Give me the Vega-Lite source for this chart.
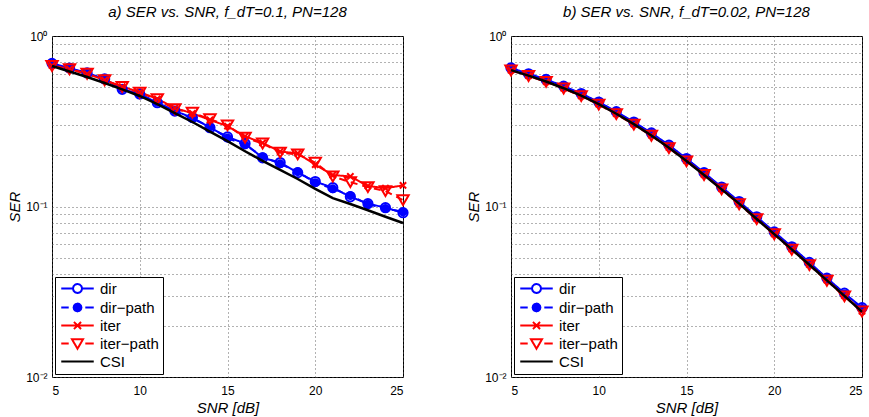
{
"$schema": "https://vega.github.io/schema/vega-lite/v6.json",
"background": "white",
"padding": {"left": 7, "top": 4, "right": 0, "bottom": 1},
"config": {
  "view": {"stroke": "black", "strokeWidth": 1},
  "font": "Liberation Sans",
  "title": {"font": "Liberation Sans", "fontSize": 15, "fontStyle": "italic", "fontWeight": "normal", "color": "black", "offset": 10},
  "axis": {"labelFont": "Liberation Sans", "labelFontSize": 12, "labelColor": "black", "titleFont": "Liberation Sans", "titleFontSize": 15, "titleFontStyle": "italic", "titleFontWeight": "normal", "titleColor": "black", "domain": false, "ticks": false, "gridColor": "#555555", "gridDash": [1, 3], "gridOpacity": 0.9, "gridWidth": 1, "labelOverlap": false},
  "legend": {"orient": "bottom-left", "offset": 3, "strokeColor": "black", "fillColor": "white", "padding": 4, "labelFont": "Liberation Sans", "labelFontSize": 15, "labelColor": "black", "symbolSize": 169, "rowPadding": 1, "symbolOffset": 11, "labelOffset": 15, "symbolStrokeWidth": 2}
},
"data": {"values": [
{"panel":"a","series":"dir","snr":5,"ser":0.691},{"panel":"a","series":"dir","snr":6,"ser":0.649},{"panel":"a","series":"dir","snr":7,"ser":0.607},{"panel":"a","series":"dir","snr":8,"ser":0.560},{"panel":"a","series":"dir","snr":9,"ser":0.487},{"panel":"a","series":"dir","snr":10,"ser":0.457},{"panel":"a","series":"dir","snr":11,"ser":0.406},{"panel":"a","series":"dir","snr":12,"ser":0.363},{"panel":"a","series":"dir","snr":13,"ser":0.332},{"panel":"a","series":"dir","snr":14,"ser":0.290},{"panel":"a","series":"dir","snr":15,"ser":0.256},{"panel":"a","series":"dir","snr":16,"ser":0.234},{"panel":"a","series":"dir","snr":17,"ser":0.193},{"panel":"a","series":"dir","snr":18,"ser":0.181},{"panel":"a","series":"dir","snr":19,"ser":0.158},{"panel":"a","series":"dir","snr":20,"ser":0.140},{"panel":"a","series":"dir","snr":21,"ser":0.129},{"panel":"a","series":"dir","snr":22,"ser":0.114},{"panel":"a","series":"dir","snr":23,"ser":0.104},{"panel":"a","series":"dir","snr":24,"ser":0.0984},{"panel":"a","series":"dir","snr":25,"ser":0.092},
{"panel":"a","series":"dir-path","snr":5,"ser":0.688},{"panel":"a","series":"dir-path","snr":6,"ser":0.645},{"panel":"a","series":"dir-path","snr":7,"ser":0.603},{"panel":"a","series":"dir-path","snr":8,"ser":0.556},{"panel":"a","series":"dir-path","snr":9,"ser":0.492},{"panel":"a","series":"dir-path","snr":10,"ser":0.452},{"panel":"a","series":"dir-path","snr":11,"ser":0.410},{"panel":"a","series":"dir-path","snr":12,"ser":0.360},{"panel":"a","series":"dir-path","snr":13,"ser":0.328},{"panel":"a","series":"dir-path","snr":14,"ser":0.293},{"panel":"a","series":"dir-path","snr":15,"ser":0.252},{"panel":"a","series":"dir-path","snr":16,"ser":0.230},{"panel":"a","series":"dir-path","snr":17,"ser":0.196},{"panel":"a","series":"dir-path","snr":18,"ser":0.178},{"panel":"a","series":"dir-path","snr":19,"ser":0.160},{"panel":"a","series":"dir-path","snr":20,"ser":0.138},{"panel":"a","series":"dir-path","snr":21,"ser":0.127},{"panel":"a","series":"dir-path","snr":22,"ser":0.116},{"panel":"a","series":"dir-path","snr":23,"ser":0.103},{"panel":"a","series":"dir-path","snr":24,"ser":0.0975},{"panel":"a","series":"dir-path","snr":25,"ser":0.093},
{"panel":"a","series":"iter","snr":5,"ser":0.672},{"panel":"a","series":"iter","snr":6,"ser":0.640},{"panel":"a","series":"iter","snr":7,"ser":0.600},{"panel":"a","series":"iter","snr":8,"ser":0.552},{"panel":"a","series":"iter","snr":9,"ser":0.505},{"panel":"a","series":"iter","snr":10,"ser":0.468},{"panel":"a","series":"iter","snr":11,"ser":0.428},{"panel":"a","series":"iter","snr":12,"ser":0.378},{"panel":"a","series":"iter","snr":13,"ser":0.352},{"panel":"a","series":"iter","snr":14,"ser":0.322},{"panel":"a","series":"iter","snr":15,"ser":0.296},{"panel":"a","series":"iter","snr":16,"ser":0.258},{"panel":"a","series":"iter","snr":17,"ser":0.236},{"panel":"a","series":"iter","snr":18,"ser":0.210},{"panel":"a","series":"iter","snr":19,"ser":0.205},{"panel":"a","series":"iter","snr":20,"ser":0.176},{"panel":"a","series":"iter","snr":21,"ser":0.153},{"panel":"a","series":"iter","snr":22,"ser":0.150},{"panel":"a","series":"iter","snr":23,"ser":0.132},{"panel":"a","series":"iter","snr":24,"ser":0.128},{"panel":"a","series":"iter","snr":25,"ser":0.133},
{"panel":"a","series":"iter-path","snr":5,"ser":0.667},{"panel":"a","series":"iter-path","snr":6,"ser":0.638},{"panel":"a","series":"iter-path","snr":7,"ser":0.601},{"panel":"a","series":"iter-path","snr":8,"ser":0.550},{"panel":"a","series":"iter-path","snr":9,"ser":0.502},{"panel":"a","series":"iter-path","snr":10,"ser":0.465},{"panel":"a","series":"iter-path","snr":11,"ser":0.426},{"panel":"a","series":"iter-path","snr":12,"ser":0.372},{"panel":"a","series":"iter-path","snr":13,"ser":0.355},{"panel":"a","series":"iter-path","snr":14,"ser":0.325},{"panel":"a","series":"iter-path","snr":15,"ser":0.299},{"panel":"a","series":"iter-path","snr":16,"ser":0.253},{"panel":"a","series":"iter-path","snr":17,"ser":0.234},{"panel":"a","series":"iter-path","snr":18,"ser":0.207},{"panel":"a","series":"iter-path","snr":19,"ser":0.202},{"panel":"a","series":"iter-path","snr":20,"ser":0.181},{"panel":"a","series":"iter-path","snr":21,"ser":0.150},{"panel":"a","series":"iter-path","snr":22,"ser":0.139},{"panel":"a","series":"iter-path","snr":23,"ser":0.130},{"panel":"a","series":"iter-path","snr":24,"ser":0.123},{"panel":"a","series":"iter-path","snr":25,"ser":0.109},
{"panel":"a","series":"CSI","snr":5,"ser":0.667},{"panel":"a","series":"CSI","snr":6,"ser":0.619},{"panel":"a","series":"CSI","snr":7,"ser":0.575},{"panel":"a","series":"CSI","snr":8,"ser":0.530},{"panel":"a","series":"CSI","snr":9,"ser":0.486},{"panel":"a","series":"CSI","snr":10,"ser":0.445},{"panel":"a","series":"CSI","snr":11,"ser":0.398},{"panel":"a","series":"CSI","snr":12,"ser":0.353},{"panel":"a","series":"CSI","snr":13,"ser":0.313},{"panel":"a","series":"CSI","snr":14,"ser":0.275},{"panel":"a","series":"CSI","snr":15,"ser":0.242},{"panel":"a","series":"CSI","snr":16,"ser":0.211},{"panel":"a","series":"CSI","snr":17,"ser":0.185},{"panel":"a","series":"CSI","snr":18,"ser":0.164},{"panel":"a","series":"CSI","snr":19,"ser":0.145},{"panel":"a","series":"CSI","snr":20,"ser":0.127},{"panel":"a","series":"CSI","snr":21,"ser":0.112},{"panel":"a","series":"CSI","snr":22,"ser":0.1035},{"panel":"a","series":"CSI","snr":23,"ser":0.0951},{"panel":"a","series":"CSI","snr":24,"ser":0.0871},{"panel":"a","series":"CSI","snr":25,"ser":0.080},
{"panel":"b","series":"dir","snr":5,"ser":0.650},{"panel":"b","series":"dir","snr":6,"ser":0.600},{"panel":"b","series":"dir","snr":7,"ser":0.556},{"panel":"b","series":"dir","snr":8,"ser":0.508},{"panel":"b","series":"dir","snr":9,"ser":0.460},{"panel":"b","series":"dir","snr":10,"ser":0.410},{"panel":"b","series":"dir","snr":11,"ser":0.360},{"panel":"b","series":"dir","snr":12,"ser":0.313},{"panel":"b","series":"dir","snr":13,"ser":0.270},{"panel":"b","series":"dir","snr":14,"ser":0.229},{"panel":"b","series":"dir","snr":15,"ser":0.191},{"panel":"b","series":"dir","snr":16,"ser":0.158},{"panel":"b","series":"dir","snr":17,"ser":0.130},{"panel":"b","series":"dir","snr":18,"ser":0.107},{"panel":"b","series":"dir","snr":19,"ser":0.087},{"panel":"b","series":"dir","snr":20,"ser":0.071},{"panel":"b","series":"dir","snr":21,"ser":0.058},{"panel":"b","series":"dir","snr":22,"ser":0.047},{"panel":"b","series":"dir","snr":23,"ser":0.038},{"panel":"b","series":"dir","snr":24,"ser":0.031},{"panel":"b","series":"dir","snr":25,"ser":0.0255},
{"panel":"b","series":"dir-path","snr":5,"ser":0.648},{"panel":"b","series":"dir-path","snr":6,"ser":0.598},{"panel":"b","series":"dir-path","snr":7,"ser":0.553},{"panel":"b","series":"dir-path","snr":8,"ser":0.505},{"panel":"b","series":"dir-path","snr":9,"ser":0.457},{"panel":"b","series":"dir-path","snr":10,"ser":0.407},{"panel":"b","series":"dir-path","snr":11,"ser":0.357},{"panel":"b","series":"dir-path","snr":12,"ser":0.311},{"panel":"b","series":"dir-path","snr":13,"ser":0.268},{"panel":"b","series":"dir-path","snr":14,"ser":0.227},{"panel":"b","series":"dir-path","snr":15,"ser":0.190},{"panel":"b","series":"dir-path","snr":16,"ser":0.157},{"panel":"b","series":"dir-path","snr":17,"ser":0.129},{"panel":"b","series":"dir-path","snr":18,"ser":0.106},{"panel":"b","series":"dir-path","snr":19,"ser":0.0865},{"panel":"b","series":"dir-path","snr":20,"ser":0.0705},{"panel":"b","series":"dir-path","snr":21,"ser":0.0575},{"panel":"b","series":"dir-path","snr":22,"ser":0.0467},{"panel":"b","series":"dir-path","snr":23,"ser":0.0378},{"panel":"b","series":"dir-path","snr":24,"ser":0.0307},{"panel":"b","series":"dir-path","snr":25,"ser":0.0252},
{"panel":"b","series":"iter","snr":5,"ser":0.630},{"panel":"b","series":"iter","snr":6,"ser":0.585},{"panel":"b","series":"iter","snr":7,"ser":0.540},{"panel":"b","series":"iter","snr":8,"ser":0.494},{"panel":"b","series":"iter","snr":9,"ser":0.446},{"panel":"b","series":"iter","snr":10,"ser":0.398},{"panel":"b","series":"iter","snr":11,"ser":0.350},{"panel":"b","series":"iter","snr":12,"ser":0.304},{"panel":"b","series":"iter","snr":13,"ser":0.262},{"panel":"b","series":"iter","snr":14,"ser":0.222},{"panel":"b","series":"iter","snr":15,"ser":0.186},{"panel":"b","series":"iter","snr":16,"ser":0.154},{"panel":"b","series":"iter","snr":17,"ser":0.127},{"panel":"b","series":"iter","snr":18,"ser":0.104},{"panel":"b","series":"iter","snr":19,"ser":0.085},{"panel":"b","series":"iter","snr":20,"ser":0.069},{"panel":"b","series":"iter","snr":21,"ser":0.0562},{"panel":"b","series":"iter","snr":22,"ser":0.0457},{"panel":"b","series":"iter","snr":23,"ser":0.037},{"panel":"b","series":"iter","snr":24,"ser":0.030},{"panel":"b","series":"iter","snr":25,"ser":0.0243},
{"panel":"b","series":"iter-path","snr":5,"ser":0.628},{"panel":"b","series":"iter-path","snr":6,"ser":0.583},{"panel":"b","series":"iter-path","snr":7,"ser":0.538},{"panel":"b","series":"iter-path","snr":8,"ser":0.492},{"panel":"b","series":"iter-path","snr":9,"ser":0.444},{"panel":"b","series":"iter-path","snr":10,"ser":0.396},{"panel":"b","series":"iter-path","snr":11,"ser":0.348},{"panel":"b","series":"iter-path","snr":12,"ser":0.302},{"panel":"b","series":"iter-path","snr":13,"ser":0.260},{"panel":"b","series":"iter-path","snr":14,"ser":0.220},{"panel":"b","series":"iter-path","snr":15,"ser":0.184},{"panel":"b","series":"iter-path","snr":16,"ser":0.153},{"panel":"b","series":"iter-path","snr":17,"ser":0.126},{"panel":"b","series":"iter-path","snr":18,"ser":0.103},{"panel":"b","series":"iter-path","snr":19,"ser":0.0843},{"panel":"b","series":"iter-path","snr":20,"ser":0.0687},{"panel":"b","series":"iter-path","snr":21,"ser":0.0558},{"panel":"b","series":"iter-path","snr":22,"ser":0.0453},{"panel":"b","series":"iter-path","snr":23,"ser":0.0367},{"panel":"b","series":"iter-path","snr":24,"ser":0.0297},{"panel":"b","series":"iter-path","snr":25,"ser":0.0242},
{"panel":"b","series":"CSI","snr":5,"ser":0.631},{"panel":"b","series":"CSI","snr":6,"ser":0.586},{"panel":"b","series":"CSI","snr":7,"ser":0.541},{"panel":"b","series":"CSI","snr":8,"ser":0.494},{"panel":"b","series":"CSI","snr":9,"ser":0.447},{"panel":"b","series":"CSI","snr":10,"ser":0.398},{"panel":"b","series":"CSI","snr":11,"ser":0.350},{"panel":"b","series":"CSI","snr":12,"ser":0.304},{"panel":"b","series":"CSI","snr":13,"ser":0.261},{"panel":"b","series":"CSI","snr":14,"ser":0.221},{"panel":"b","series":"CSI","snr":15,"ser":0.185},{"panel":"b","series":"CSI","snr":16,"ser":0.153},{"panel":"b","series":"CSI","snr":17,"ser":0.126},{"panel":"b","series":"CSI","snr":18,"ser":0.104},{"panel":"b","series":"CSI","snr":19,"ser":0.0845},{"panel":"b","series":"CSI","snr":20,"ser":0.0689},{"panel":"b","series":"CSI","snr":21,"ser":0.0560},{"panel":"b","series":"CSI","snr":22,"ser":0.0455},{"panel":"b","series":"CSI","snr":23,"ser":0.0369},{"panel":"b","series":"CSI","snr":24,"ser":0.0299},{"panel":"b","series":"CSI","snr":25,"ser":0.0241}
]},
"spacing": 108,
"bounds": "flush",
"resolve": {"legend": {"color": "independent"}, "scale": {"color": "independent", "x": "independent", "y": "independent"}},
"hconcat": [
{
  "width": 351, "height": 341,
  "title": {"text": "a) SER vs. SNR, f_dT=0.1, PN=128"},
  "transform": [{"filter": "datum.panel === 'a'"}],
  "encoding": {
    "x": {"field": "snr", "type": "quantitative", "scale": {"domain": [5, 25], "nice": false, "zero": false}, "axis": {"values": [5, 10, 15, 20, 25], "title": "SNR [dB]", "labelPadding": 8, "titlePadding": 4}},
    "y": {"field": "ser", "type": "quantitative", "scale": {"type": "log", "domain": [0.01, 1], "nice": false}, "axis": {"values": [0.01,0.02,0.03,0.04,0.05,0.06,0.07,0.08,0.09,0.1,0.2,0.3,0.4,0.5,0.6,0.7,0.8,0.9,1], "labelExpr": "datum.value > 0.99 ? '10⁰' : (abs(datum.value - 0.1) < 1e-6 ? '10⁻¹' : (abs(datum.value - 0.01) < 1e-6 ? '10⁻²' : ''))", "title": "SER", "labelPadding": 5, "titlePadding": 3}}
  },
  "layer": [
    {"transform": [{"filter": "datum.series !== 'CSI'"}], "mark": {"type": "line", "strokeWidth": 2},
     "encoding": {
       "color": {"field": "series", "type": "nominal", "scale": {"domain": ["dir", "dir-path", "iter", "iter-path", "CSI"], "range": ["#0000ff", "#0000ff", "#ff0000", "#ff0000", "#000000"]},
         "legend": {"title": null, "labelExpr": "replace(datum.label, '-', '−')",
           "encode": {"symbols": {"update": {
             "shape": {"signal": "datum.value === 'dir' ? 'M-2.5,0L-0.7,0M0.7,0L2.5,0M0.7,0L0.606,0.35L0.35,0.606L0,0.7L-0.35,0.606L-0.606,0.35L-0.7,0L-0.606,-0.35L-0.35,-0.606L0,-0.7L0.35,-0.606L0.606,-0.35Z' : datum.value === 'dir-path' ? 'M-2.5,0L-1.35,0M1.2,0L2.5,0M0.6,0L0.52,0.3L0.3,0.52L0,0.6L-0.3,0.52L-0.52,0.3L-0.6,0L-0.52,-0.3L-0.3,-0.52L0,-0.6L0.3,-0.52L0.52,-0.3Z' : datum.value === 'iter' ? 'M-2.5,0L2.5,0M-0.55,-0.55L0.55,0.55M-0.55,0.55L0.55,-0.55' : datum.value === 'iter-path' ? 'M-2.5,0L-1.35,0M1.2,0L2.5,0M-0.85,-0.65L0.85,-0.65L0,0.8Z' : 'M-2.5,0L2.5,0'"},
             "stroke": {"signal": "datum.value === 'CSI' ? '#000000' : (datum.value === 'iter' || datum.value === 'iter-path') ? '#ff0000' : '#0000ff'"},
             "fill": {"signal": "datum.value === 'dir-path' ? '#0000ff' : 'transparent'"},
             "strokeWidth": {"value": 2},
             "strokeDash": {"value": [1, 0]},
             "opacity": {"value": 1}
           }}}}},
       "strokeDash": {"field": "series", "type": "nominal", "scale": {"domain": ["dir", "dir-path", "iter", "iter-path"], "range": [[1, 0], [7, 5], [1, 0], [7, 5]]}, "legend": null}
     }},
    {"transform": [{"filter": "datum.series === 'dir'"}], "mark": {"type": "point", "shape": "circle", "filled": false, "stroke": "#0000ff", "strokeWidth": 2, "size": 85, "opacity": 1}},
    {"transform": [{"filter": "datum.series === 'dir-path'"}], "mark": {"type": "point", "shape": "circle", "filled": true, "fill": "#0000ff", "size": 80, "opacity": 1}},
    {"transform": [{"filter": "datum.series === 'iter'"}], "mark": {"type": "point", "shape": "M-1,-1L1,1M-1,1L1,-1", "filled": false, "stroke": "#ff0000", "strokeWidth": 2, "size": 40, "opacity": 1}},
    {"transform": [{"filter": "datum.series === 'iter-path'"}], "mark": {"type": "point", "shape": "triangle-down", "filled": false, "stroke": "#ff0000", "strokeWidth": 2, "size": 130, "opacity": 1}},
    {"transform": [{"filter": "datum.series === 'CSI'"}], "mark": {"type": "line", "stroke": "#000000", "strokeWidth": 2.5}, "encoding": {}}
  ]
},
{
  "width": 351, "height": 341,
  "title": {"text": "b) SER vs. SNR, f_dT=0.02, PN=128"},
  "transform": [{"filter": "datum.panel === 'b'"}],
  "encoding": {
    "x": {"field": "snr", "type": "quantitative", "scale": {"domain": [5, 25], "nice": false, "zero": false}, "axis": {"values": [5, 10, 15, 20, 25], "title": "SNR [dB]", "labelPadding": 8, "titlePadding": 4}},
    "y": {"field": "ser", "type": "quantitative", "scale": {"type": "log", "domain": [0.01, 1], "nice": false}, "axis": {"values": [0.01,0.02,0.03,0.04,0.05,0.06,0.07,0.08,0.09,0.1,0.2,0.3,0.4,0.5,0.6,0.7,0.8,0.9,1], "labelExpr": "datum.value > 0.99 ? '10⁰' : (abs(datum.value - 0.1) < 1e-6 ? '10⁻¹' : (abs(datum.value - 0.01) < 1e-6 ? '10⁻²' : ''))", "title": "SER", "labelPadding": 5, "titlePadding": 3}}
  },
  "layer": [
    {"transform": [{"filter": "datum.series !== 'CSI'"}], "mark": {"type": "line", "strokeWidth": 2},
     "encoding": {
       "color": {"field": "series", "type": "nominal", "scale": {"domain": ["dir", "dir-path", "iter", "iter-path", "CSI"], "range": ["#0000ff", "#0000ff", "#ff0000", "#ff0000", "#000000"]},
         "legend": {"title": null, "labelExpr": "replace(datum.label, '-', '−')",
           "encode": {"symbols": {"update": {
             "shape": {"signal": "datum.value === 'dir' ? 'M-2.5,0L-0.7,0M0.7,0L2.5,0M0.7,0L0.606,0.35L0.35,0.606L0,0.7L-0.35,0.606L-0.606,0.35L-0.7,0L-0.606,-0.35L-0.35,-0.606L0,-0.7L0.35,-0.606L0.606,-0.35Z' : datum.value === 'dir-path' ? 'M-2.5,0L-1.35,0M1.2,0L2.5,0M0.6,0L0.52,0.3L0.3,0.52L0,0.6L-0.3,0.52L-0.52,0.3L-0.6,0L-0.52,-0.3L-0.3,-0.52L0,-0.6L0.3,-0.52L0.52,-0.3Z' : datum.value === 'iter' ? 'M-2.5,0L2.5,0M-0.55,-0.55L0.55,0.55M-0.55,0.55L0.55,-0.55' : datum.value === 'iter-path' ? 'M-2.5,0L-1.35,0M1.2,0L2.5,0M-0.85,-0.65L0.85,-0.65L0,0.8Z' : 'M-2.5,0L2.5,0'"},
             "stroke": {"signal": "datum.value === 'CSI' ? '#000000' : (datum.value === 'iter' || datum.value === 'iter-path') ? '#ff0000' : '#0000ff'"},
             "fill": {"signal": "datum.value === 'dir-path' ? '#0000ff' : 'transparent'"},
             "strokeWidth": {"value": 2},
             "strokeDash": {"value": [1, 0]},
             "opacity": {"value": 1}
           }}}}},
       "strokeDash": {"field": "series", "type": "nominal", "scale": {"domain": ["dir", "dir-path", "iter", "iter-path"], "range": [[1, 0], [7, 5], [1, 0], [7, 5]]}, "legend": null}
     }},
    {"transform": [{"filter": "datum.series === 'dir'"}], "mark": {"type": "point", "shape": "circle", "filled": false, "stroke": "#0000ff", "strokeWidth": 2, "size": 85, "opacity": 1}},
    {"transform": [{"filter": "datum.series === 'dir-path'"}], "mark": {"type": "point", "shape": "circle", "filled": true, "fill": "#0000ff", "size": 80, "opacity": 1}},
    {"transform": [{"filter": "datum.series === 'iter'"}], "mark": {"type": "point", "shape": "M-1,-1L1,1M-1,1L1,-1", "filled": false, "stroke": "#ff0000", "strokeWidth": 2, "size": 40, "opacity": 1}},
    {"transform": [{"filter": "datum.series === 'iter-path'"}], "mark": {"type": "point", "shape": "triangle-down", "filled": false, "stroke": "#ff0000", "strokeWidth": 2, "size": 130, "opacity": 1}},
    {"transform": [{"filter": "datum.series === 'CSI'"}], "mark": {"type": "line", "stroke": "#000000", "strokeWidth": 2.5}, "encoding": {}}
  ]
}
]
}
